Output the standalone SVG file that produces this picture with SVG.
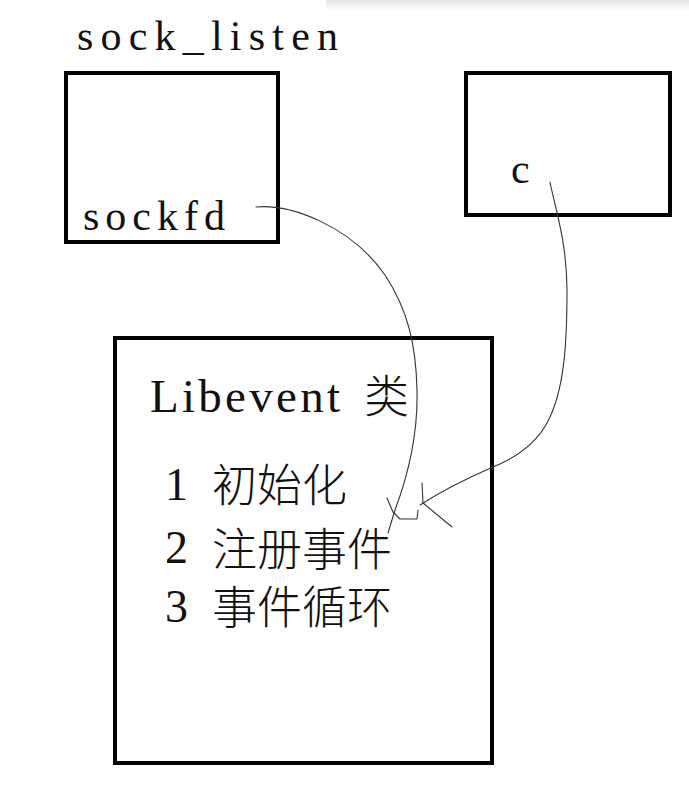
<svg xmlns="http://www.w3.org/2000/svg" width="689" height="804" viewBox="0 0 689 804">
<defs>
<linearGradient id="shade" x1="0" y1="0" x2="0" y2="1">
<stop offset="0" stop-color="#e4e4e4"/>
<stop offset="1" stop-color="#ffffff"/>
</linearGradient>
</defs>
<style>
.box{fill:#fff;stroke:#000;stroke-width:4}
.lat{font-family:"Liberation Serif","DejaVu Serif",serif;fill:#111}
.cjk{font-family:"Noto Sans CJK SC","Noto Sans CJK JP",sans-serif;fill:#111;font-weight:300}
.ln{fill:none;stroke:#333;stroke-width:1.1;stroke-linecap:round;stroke-linejoin:round}
</style>
<rect x="0" y="0" width="689" height="804" fill="#fff"/>
<rect x="326" y="0" width="363" height="11" fill="url(#shade)"/>
<text class="lat" x="77" y="50" font-size="42" textLength="261" lengthAdjust="spacing">sock_listen</text>
<g id="sock_listen">
<rect class="box" x="66" y="73" width="212" height="169"/>
<text class="lat" x="83" y="230" font-size="42" textLength="142" lengthAdjust="spacing">sockfd</text>
</g>
<g id="c_box">
<rect class="box" x="466" y="73" width="204" height="142"/>
<text class="lat" x="511" y="183" font-size="42">c</text>
</g>
<g id="libevent">
<rect class="box" x="115" y="338" width="377" height="425"/>
<text class="lat" x="150" y="412" font-size="47" textLength="190" lengthAdjust="spacing">Libevent</text>
<text class="cjk" x="364" y="413" font-size="45">类</text>
<text class="lat" x="165" y="500" font-size="46">1</text>
<text class="cjk" x="212" y="502" font-size="45">初始化</text>
<text class="lat" x="165" y="563" font-size="46">2</text>
<text class="cjk" x="212" y="566" font-size="45">注册事件</text>
<text class="lat" x="165" y="622" font-size="46">3</text>
<text class="cjk" x="212" y="624" font-size="45">事件循环</text>
</g>
<g id="connectors">
<path class="ln" d="M256,207 C290,204 350,225 385,275 C408,310 416,345 417,390 C418,430 410,470 395,510 L388,533"/>
<path class="ln" d="M387,498 L393,512 L400,519 L417,519 L418,510"/>
<path class="ln" d="M550,182 C553,200 567,240 567,290 C567,340 565,390 547,423 C535,445 515,458 493,467 C470,477 440,492 420,505"/>
<path class="ln" d="M422,483 L423,503 L452,527"/>
</g>
</svg>
